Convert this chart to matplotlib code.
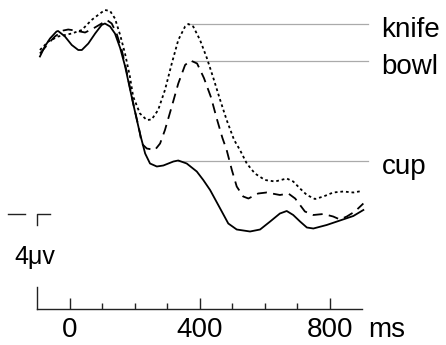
import matplotlib
matplotlib.use("Agg")
import matplotlib.pyplot as plt
import numpy as np

plt.rcParams['font.family'] = ['Liberation Sans', 'DejaVu Sans']

# ---- data (time in ms, amplitude in µV) ----
cup_t = [-92, -77, -61, -41, -36, -15, 6, 26, 37, 57, 78, 98, 108, 124, 139, 155, 170,
         195, 216, 232, 247, 268, 288, 319, 334, 360, 391, 411, 432, 463, 488, 514, 555,
         586, 617, 647, 668, 688, 709, 730, 750, 791, 832, 873, 904]
cup_v = [31.5, 33.5, 35.1, 36.5, 36.6, 35.5, 33.8, 32.8, 32.8, 34.1, 36.1, 37.8, 38.1, 37.5,
         36.1, 33.2, 29.6, 22.1, 16.1, 12.1, 10.1, 9.5, 9.7, 10.5, 10.7, 10.1, 8.5, 6.8, 4.8,
         1.1, -1.9, -3.1, -3.5, -3.1, -1.5, 0.1, 0.6, -0.2, -1.5, -2.7, -2.9, -2.2, -1.3,
         -0.4, 0.8]

bowl_t = [-92, -66, -46, -20, -5, 16, 47, 72, 98, 114, 129, 144, 160, 175, 195, 216, 221,
          237, 262, 278, 293, 314, 334, 355, 372, 392, 413, 435, 452, 470, 483, 499, 514,
          534, 550, 580, 606, 647, 673, 694, 709, 724, 750, 781, 811, 832, 853, 878, 904]
bowl_v = [32.1, 34.1, 35.5, 36.7, 36.9, 36.7, 36.3, 37.1, 38.1, 38.8, 38.1, 36.1, 32.8, 28.5,
          22.2, 16.2, 14.1, 13.1, 12.8, 14.1, 16.8, 21.5, 26.1, 29.8, 30.7, 30.1, 27.2, 23.3,
          19.2, 15.2, 12.8, 8.8, 5.5, 3.5, 3.1, 4.1, 4.3, 3.8, 4.1, 3.1, 1.8, 0.5, -0.2,
          0.0, -0.5, -1.1, -0.5, 0.5, 2.1]

knife_t = [-92, -66, -36, 6, 37, 67, 93, 108, 124, 139, 155, 170, 185, 195, 216, 237, 252,
           272, 293, 314, 334, 355, 365, 380, 401, 422, 442, 463, 483, 506, 524, 545, 570,
           601, 632, 668, 688, 709, 730, 755, 781, 811, 842, 873, 899]
knife_v = [32.8, 34.5, 35.5, 36.1, 36.8, 38.8, 40.1, 40.8, 40.6, 39.1, 35.8, 32.1, 27.5,
           23.5, 20.1, 18.8, 18.9, 20.8, 24.8, 30.1, 34.8, 37.5, 38.0, 37.5, 34.8, 31.2,
           27.2, 22.8, 18.8, 14.8, 12.8, 10.1, 8.1, 6.8, 6.5, 7.1, 6.5, 5.1, 3.8, 3.0, 3.5,
           4.3, 4.5, 4.3, 4.6]

labels = ["knife", "bowl", "cup"]
tick_values = [0, 400, 800]
tick_labels = ["0", "400", "800"]
minor_values = [100, 200, 300, 500, 600, 700]

# ---- figure ----
fig = plt.figure(figsize=(4.46, 3.45), dpi=100)
ax = fig.add_axes([0, 0, 1, 1])
ax.set_xlim(-215, 1158.5)
ax.set_ylim(-26.2, 42.8)
ax.patch.set_alpha(0)

lw = 1.3
ax.plot(cup_t, cup_v, color='black', lw=lw, solid_joinstyle='round')
ax.plot(bowl_t, bowl_v, color='black', lw=lw, linestyle=(0, (5.5, 3.5)))
ax.plot(knife_t, knife_v, color='black', lw=lw, linestyle=(0, (1.5, 1.6)))

# label leader lines from each curve's late peak
for name, t, v in [("knife", knife_t, knife_v), ("bowl", bowl_t, bowl_v), ("cup", cup_t, cup_v)]:
    t = np.asarray(t); v = np.asarray(v)
    m = t > 250
    i = np.argmax(v[m])
    tp, vp = t[m][i], v[m][i]
    ax.plot([tp, 919], [vp, vp], color='#aaaaaa', lw=0.9, zorder=0)
    ax.text(960, vp - 2.65, name, fontsize=20, ha='left', va='baseline')

# x axis
ybase = -19
for s in ['top', 'right']:
    ax.spines[s].set_visible(False)
ax.spines['bottom'].set_position(('data', ybase))
ax.spines['bottom'].set_bounds(-100, 900)
ax.spines['left'].set_position(('data', -100))
ax.spines['left'].set_bounds(ybase, -14.6)
for s in ['bottom', 'left']:
    ax.spines[s].set_linewidth(1.0)
    ax.spines[s].set_color('#222222')
ax.set_xticks(tick_values)
ax.set_xticks(minor_values, minor=True)
ax.set_xticklabels([])
ax.tick_params(axis='x', which='major', direction='in', length=8.2, width=1.0, color='#222222')
ax.tick_params(axis='x', which='minor', direction='in', length=4.3, width=1.0, color='#222222')
ax.set_yticks([])
# tick labels on a common baseline, with the unit after the last one
for tv, tl in zip(tick_values, tick_labels):
    ax.text(tv, -24.6, tl, fontsize=20, ha='center', va='baseline')
ax.text(918, -24.6, "ms", fontsize=20, ha='left', va='baseline')

# scale bar
ax.plot([-190, -138], [0, 0], color='#222222', lw=1.0)
ax.plot([-61, -100, -100], [0, 0, -2.1], color='#222222', lw=1.0)
ax.text(-171, -10, "4\u03bcv", fontsize=18, ha='left', va='baseline')

fig.savefig("out.png", dpi=100)
